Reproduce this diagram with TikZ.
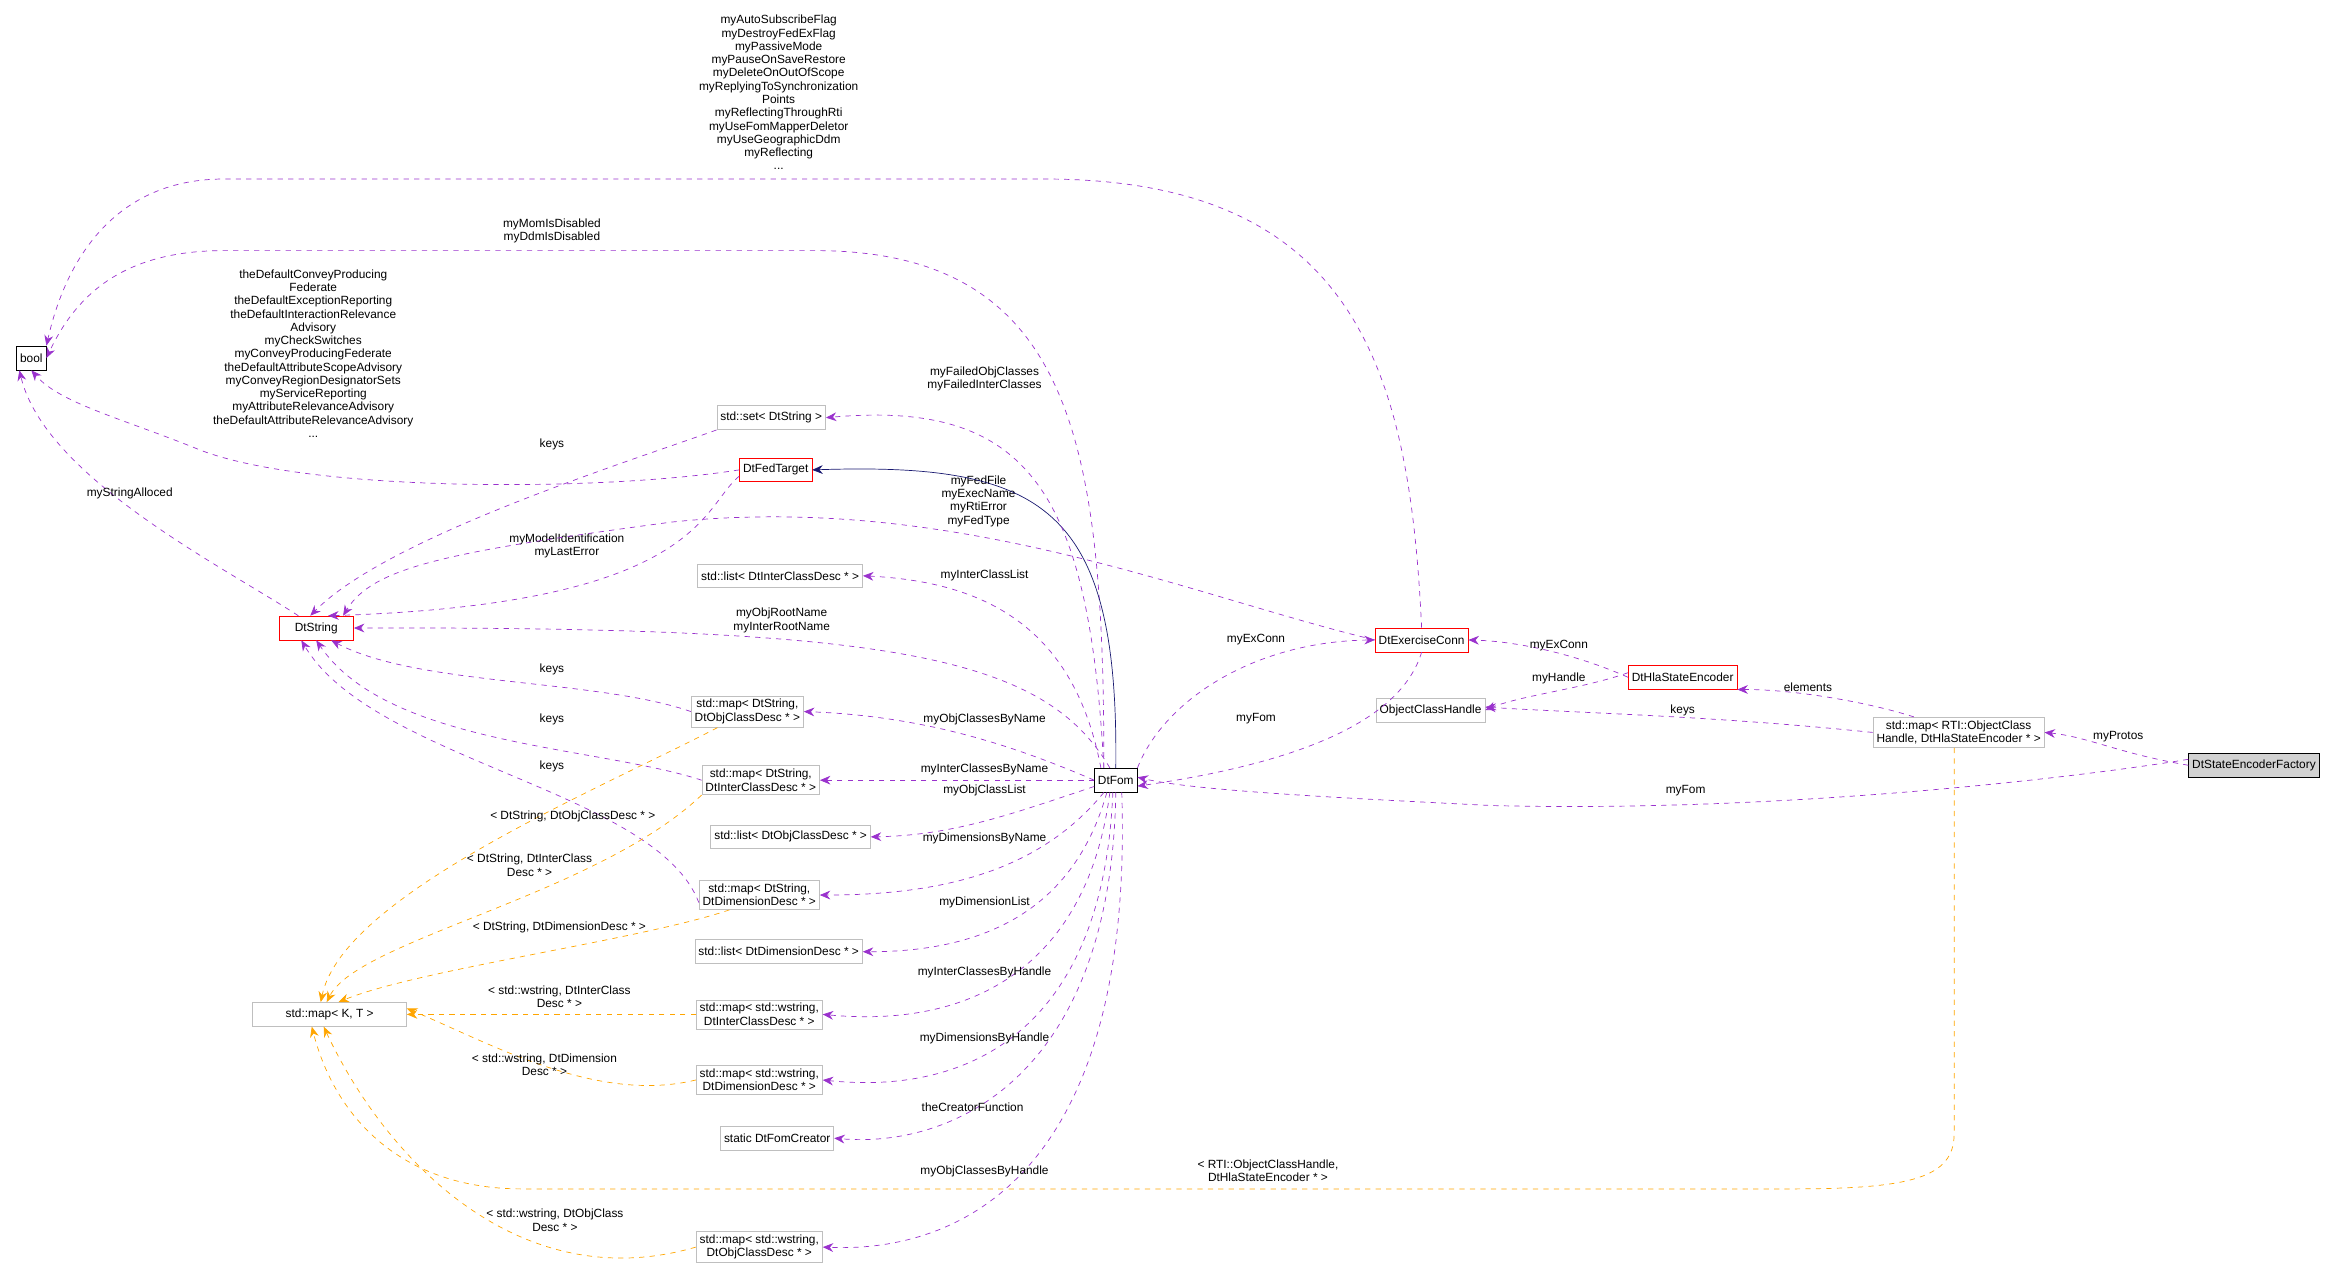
\documentclass[tikz,border=0pt]{standalone}
\usepackage{fontspec}
\setmainfont{Liberation Sans}
\usetikzlibrary{arrows.meta}
\definecolor{pu}{HTML}{9A32CD}
\definecolor{og}{HTML}{FFA500}
\definecolor{nv}{HTML}{191970}
\definecolor{gb}{HTML}{BFBFBF}
\begin{document}
\begin{tikzpicture}[x=0.03cm,y=-0.03cm,
 every node/.style={font=\fontsize{6.8}{7.6}\selectfont,align=center},
 box/.style={draw=black,inner sep=2pt,minimum height=16*0.03cm},
 gbox/.style={draw=gb,inner sep=2pt,minimum height=16*0.03cm},
 rbox/.style={draw=red,inner sep=2pt,minimum height=16*0.03cm},
 lab/.style={inner sep=0pt},
 m/.style={draw=pu,dashed,-{Stealth[length=6pt,width=5pt]}},
 t/.style={draw=og,dashed,-{Stealth[length=6pt,width=5pt]}}]
\useasboundingbox (0,0) rectangle (1568,857);
\node[box] (bool) at (21,240) {bool};
\node[rbox,minimum width=50*0.03cm] (str) at (212,421) {DtString};
\node[gbox] (set) at (517,280) {std::set< DtString >};
\node[rbox] (fed) at (520,315) {DtFedTarget};
\node[gbox] (lic) at (523,386) {std::list< DtInterClassDesc * >};
\node[gbox] (mo) at (501,477) {std::map< DtString,\\DtObjClassDesc * >};
\node[gbox] (mi) at (510,523) {std::map< DtString,\\DtInterClassDesc * >};
\node[gbox] (loc) at (530,561) {std::list< DtObjClassDesc * >};
\node[gbox] (md) at (509,600) {std::map< DtString,\\DtDimensionDesc * >};
\node[gbox] (ld) at (522,638) {std::list< DtDimensionDesc * >};
\node[gbox] (wi) at (509,680) {std::map< std::wstring,\\DtInterClassDesc * >};
\node[gbox] (wd) at (509,724) {std::map< std::wstring,\\DtDimensionDesc * >};
\node[gbox] (cr) at (521,763) {static DtFomCreator};
\node[gbox] (wo) at (509,836) {std::map< std::wstring,\\DtObjClassDesc * >};
\node[gbox,minimum width=103*0.03cm] (kt) at (221,680) {std::map< K, T >};
\node[box] (fom) at (748,523) {DtFom};
\node[rbox] (ec) at (953,429) {DtExerciseConn};
\node[rbox] (hse) at (1128,454) {DtHlaStateEncoder};
\node[gbox] (och) at (959,476) {ObjectClassHandle};
\node[gbox] (rm) at (1313,491) {std::map< RTI::ObjectClass\\Handle, DtHlaStateEncoder * >};
\node[box,fill=gb!70] (fac) at (1511,513) {DtStateEncoderFactory};
% to bool
\draw[m] (ec.north) .. controls (945,250) and (910,120) .. (700,120) -- (150,120) .. controls (80,120) and (45,170) .. (bool.north east);
\node[lab] at (522,62) {myAutoSubscribeFlag\\myDestroyFedExFlag\\myPassiveMode\\myPauseOnSaveRestore\\myDeleteOnOutOfScope\\myReplyingToSynchronization\\Points\\myReflectingThroughRti\\myUseFomMapperDeletor\\myUseGeographicDdm\\myReflecting\\...};
\draw[m] ([xshift=-8*0.03cm]fom.north) .. controls (740,300) and (720,170) .. (550,168) -- (150,168) .. controls (80,168) and (50,200) .. (bool.east);
\node[lab] at (370,155) {myMomIsDisabled\\myDdmIsDisabled};
\draw[m] (fed.west) .. controls (400,330) and (200,330) .. (130,300) .. controls (80,280) and (40,270) .. (bool.south);
\node[lab] at (210,237) {theDefaultConveyProducing\\Federate\\theDefaultExceptionReporting\\theDefaultInteractionRelevance\\Advisory\\myCheckSwitches\\myConveyProducingFederate\\theDefaultAttributeScopeAdvisory\\myConveyRegionDesignatorSets\\myServiceReporting\\myAttributeRelevanceAdvisory\\theDefaultAttributeRelevanceAdvisory\\...};
\draw[m] ([xshift=-12*0.03cm]str.north) .. controls (150,380) and (30,320) .. ([xshift=-8*0.03cm]bool.south);
\node[lab] at (87,331) {myStringAlloced};
% to DtString
\draw[m] (set.south west) .. controls (420,310) and (260,360) .. ([xshift=-4*0.03cm]str.north);
\node[lab] at (370,298) {keys};
\draw[m] ([yshift=4*0.03cm]fed.south west) .. controls (470,340) and (470,405) .. ([xshift=8*0.03cm]str.north);
\node[lab] at (380,366) {myModelIdentification\\myLastError};
\draw[m] (ec.west) .. controls (800,400) and (640,330) .. (450,350) .. controls (300,370) and (250,380) .. ([xshift=18*0.03cm]str.north);
\node[lab] at (656,336) {myFedFile\\myExecName\\myRtiError\\myFedType};
\draw[m] ([xshift=-4*0.03cm]fom.north) .. controls (700,440) and (600,420) .. (str.east);
\node[lab] at (524,416) {myObjRootName\\myInterRootName};
\draw[m] (mo.west) .. controls (400,455) and (280,460) .. ([xshift=10*0.03cm]str.south);
\node[lab] at (370,449) {keys};
\draw[m] (mi.west) .. controls (400,500) and (260,500) .. (str.south);
\node[lab] at (370,482) {keys};
\draw[m] ([yshift=-5*0.03cm]md.west) .. controls (440,530) and (250,510) .. ([xshift=-10*0.03cm]str.south);
\node[lab] at (370,514) {keys};
% from DtFom
\draw[nv,-{Stealth[length=6pt,width=5pt]}] (fom.north) .. controls (750,340) and (700,310) .. (fed.east);
\draw[m] ([xshift=-8*0.03cm]fom.north) .. controls (730,330) and (690,268) .. (set.east);
\node[lab] at (660,254) {myFailedObjClasses\\myFailedInterClasses};
\draw[m] ([xshift=-10*0.03cm]fom.north) .. controls (720,420) and (660,390) .. (lic.east);
\node[lab] at (660,386) {myInterClassList};
\draw[m] (fom.west) .. controls (680,500) and (620,480) .. (mo.east);
\node[lab] at (660,482) {myObjClassesByName};
\draw[m] (fom.west) -- (mi.east);
\node[lab] at (660,516) {myInterClassesByName};
\draw[m] ([yshift=4*0.03cm]fom.south west) .. controls (680,545) and (640,560) .. (loc.east);
\node[lab] at (660,530) {myObjClassList};
\draw[m] ([xshift=-8*0.03cm]fom.south) .. controls (700,580) and (640,600) .. (md.east);
\node[lab] at (660,562) {myDimensionsByName};
\draw[m] ([xshift=-6*0.03cm]fom.south) .. controls (720,610) and (660,638) .. (ld.east);
\node[lab] at (660,605) {myDimensionList};
\draw[m] ([xshift=-4*0.03cm]fom.south) .. controls (730,640) and (660,690) .. (wi.east);
\node[lab] at (660,652) {myInterClassesByHandle};
\draw[m] ([xshift=-2*0.03cm]fom.south) .. controls (740,680) and (660,735) .. (wd.east);
\node[lab] at (660,696) {myDimensionsByHandle};
\draw[m] (fom.south) .. controls (745,720) and (640,770) .. (cr.east);
\node[lab] at (652,742) {theCreatorFunction};
\draw[m] ([xshift=4*0.03cm]fom.south) .. controls (760,780) and (650,840) .. (wo.east);
\node[lab] at (660,785) {myObjClassesByHandle};
\draw[m] (fom.north east) .. controls (780,470) and (840,430) .. (ec.west);
\node[lab] at (842,429) {myExConn};
\draw[m] (ec.south) .. controls (940,480) and (880,510) .. ([yshift=-4*0.03cm]fom.east);
\node[lab] at (842,482) {myFom};
\draw[m] (hse.west) .. controls (1060,440) and (1020,430) .. (ec.east);
\node[lab] at (1045,433) {myExConn};
\draw[m] ([yshift=3*0.03cm]hse.west) .. controls (1060,462) and (1020,466) .. (och.east);
\node[lab] at (1045,455) {myHandle};
\draw[m] (rm.west) .. controls (1150,480) and (1060,478) .. ([yshift=2*0.03cm]och.east);
\node[lab] at (1128,476) {keys};
\draw[m] ([xshift=-30*0.03cm]rm.north) .. controls (1250,470) and (1200,462) .. (hse.south east);
\node[lab] at (1212,461) {elements};
\draw[m] (fac.west) .. controls (1420,505) and (1400,494) .. (rm.east);
\node[lab] at (1420,494) {myProtos};
\draw[m] ([yshift=4*0.03cm]fac.west) .. controls (1400,520) and (1200,545) .. (1000,540) .. controls (900,535) and (800,530) .. ([yshift=2*0.03cm]fom.east);
\node[lab] at (1130,530) {myFom};
% templates
\draw[t] ([xshift=-20*0.03cm]mo.south) .. controls (400,530) and (230,600) .. ([xshift=-6*0.03cm]kt.north);
\node[lab] at (384,547) {< DtString, DtObjClassDesc * >};
\draw[t] (mi.south west) .. controls (400,600) and (240,630) .. ([xshift=-2*0.03cm]kt.north);
\node[lab] at (355,580) {< DtString, DtInterClass\\Desc * >};
\draw[t] ([xshift=-20*0.03cm]md.south) .. controls (430,630) and (280,650) .. ([xshift=6*0.03cm]kt.north);
\node[lab] at (375,622) {< DtString, DtDimensionDesc * >};
\draw[t] (wi.west) -- (kt.east);
\node[lab] at (375,668) {< std::wstring, DtInterClass\\Desc * >};
\draw[t] (wd.west) .. controls (400,740) and (330,700) .. ([yshift=4*0.03cm]kt.east);
\node[lab] at (365,714) {< std::wstring, DtDimension\\Desc * >};
\draw[t] (wo.west) .. controls (350,870) and (260,780) .. ([xshift=-4*0.03cm]kt.south);
\node[lab] at (372,818) {< std::wstring, DtObjClass\\Desc * >};
\draw[t] ([xshift=-3*0.03cm]rm.south) -- (1310,760) .. controls (1310,790) and (1280,797) .. (1200,797) -- (350,797) .. controls (270,797) and (225,750) .. ([xshift=-12*0.03cm]kt.south);
\node[lab] at (850,785) {< RTI::ObjectClassHandle,\\DtHlaStateEncoder * >};
\end{tikzpicture}
\end{document}
